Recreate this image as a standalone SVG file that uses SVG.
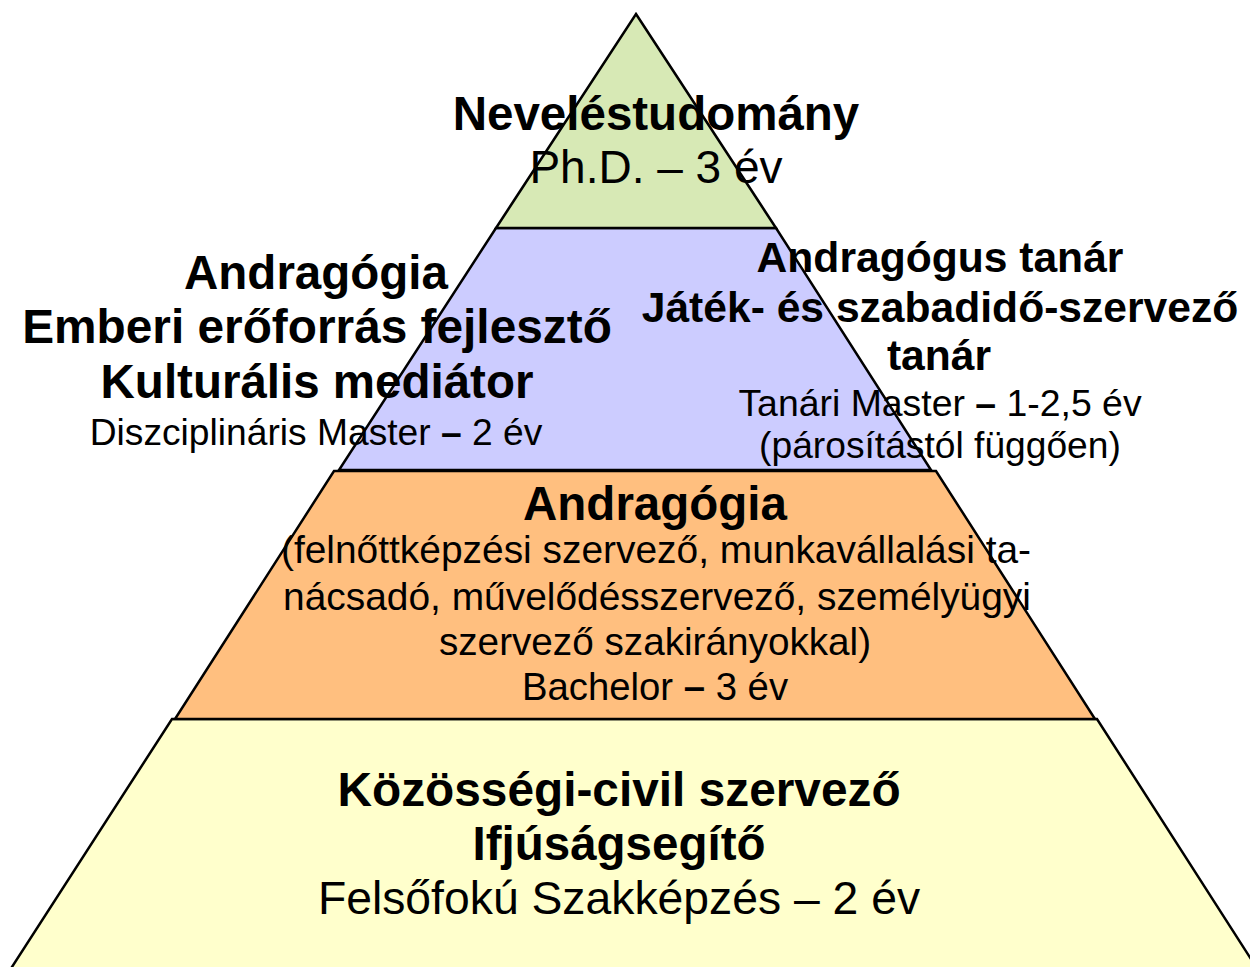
<svg xmlns="http://www.w3.org/2000/svg" width="1250" height="967" viewBox="0 0 1250 967">
<style>
.layer{stroke:#000;stroke-width:2.5;stroke-linejoin:miter}
text{font-family:"Liberation Sans",Arial,sans-serif;fill:#000;text-anchor:middle}
.b{font-weight:bold}
</style>
<rect width="1250" height="967" fill="#fff"/>
<g id="layer-bsc-foundation">
<polygon class="layer" fill="#FFFFCC" points="172,719 1097,719 1258,970 10,970"/>
</g>
<g id="layer-bachelor">
<polygon class="layer" fill="#FFBF7F" points="334,471 936,471 1095,719 175,719"/>
</g>
<g id="layer-master">
<polygon class="layer" fill="#CCCCFF" points="496,228 776,228 931,470 339,470"/>
</g>
<g id="layer-phd">
<polygon class="layer" fill="#D7E9B5" points="636,14 776,228 496,228"/>
</g>
<g id="text-phd">
<text class="b" x="656" y="130" font-size="47.5">Neveléstudomány</text>
<text x="656" y="183" font-size="46">Ph.D. – 3 év</text>
</g>
<g id="text-master-left">
<text class="b" x="316" y="289" font-size="47.5">Andragógia</text>
<text class="b" x="317" y="343" font-size="47.8">Emberi erőforrás fejlesztő</text>
<text class="b" x="317" y="398" font-size="47.5">Kulturális mediátor</text>
<text x="316" y="445" font-size="37.2">Diszciplináris Master <tspan class="b">–</tspan> 2 év</text>
</g>
<g id="text-master-right">
<text class="b" x="940" y="272" font-size="42.6">Andragógus tanár</text>
<text class="b" x="940" y="322" font-size="42.6">Játék- és szabadidő-szervező</text>
<text class="b" x="939" y="370" font-size="42.6">tanár</text>
<text x="940" y="416" font-size="37.4">Tanári Master <tspan class="b">–</tspan> 1-2,5 év</text>
<text x="940" y="458" font-size="37.2">(párosítástól függően)</text>
</g>
<g id="text-bachelor">
<text class="b" x="655" y="520" font-size="47.5">Andragógia</text>
<text x="656" y="563" font-size="38.9">(felnőttképzési szervező, munkavállalási ta-</text>
<text x="657" y="610" font-size="38.9">nácsadó, művelődésszervező, személyügyi</text>
<text x="655" y="655" font-size="38.7">szervező szakirányokkal)</text>
<text x="655" y="700" font-size="38.3">Bachelor <tspan class="b">–</tspan> 3 év</text>
</g>
<g id="text-foundation">
<text class="b" x="619" y="806" font-size="47.8">Közösségi-civil szervező</text>
<text class="b" x="619" y="860" font-size="47.5">Ifjúságsegítő</text>
<text x="619" y="914" font-size="46.3">Felsőfokú Szakképzés – 2 év</text>
</g>
</svg>
